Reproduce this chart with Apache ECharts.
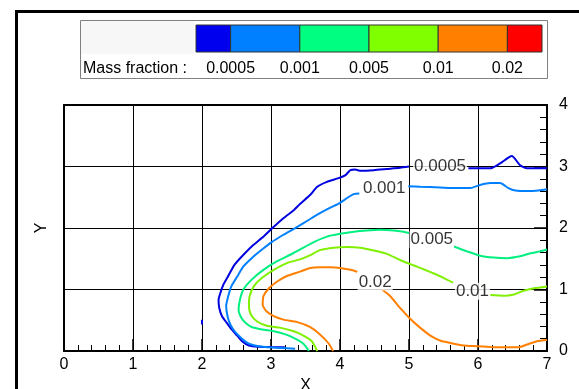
<!DOCTYPE html>
<html>
<head>
<meta charset="utf-8">
<script src="https://cdn.jsdelivr.net/npm/echarts@6/dist/echarts.min.js"></script>
<style>
html,body{margin:0;padding:0;background:#fff;}
#chart{width:579px;height:389px;}
</style>
</head>
<body>
<div id="chart"></div>
<script>
// ---- data ----
const xTicks = [0, 1, 2, 3, 4, 5, 6, 7];
const yTicks = [0, 1, 2, 3, 4];
const legendLevels = ['0.0005', '0.001', '0.005', '0.01', '0.02'];
const legendColors = ['#0000ee', '#0080ff', '#00ff80', '#80ff00', '#ff8000', '#ff0000'];
const lineColors = ['#0000e0', '#0080ff', '#00f080', '#80f000', '#ff8000'];

// contour 0.0005 (segments separated by label gaps)
const c0005_a = [[3.2,0.06],[3.0,0.065],[2.82,0.07],[2.68,0.09],[2.58,0.16],[2.51,0.25],[2.43,0.35],[2.36,0.456],[2.29,0.565],[2.25,0.70],[2.24,0.83],[2.265,0.94],[2.31,1.08],[2.39,1.24],[2.47,1.40],[2.58,1.54],[2.72,1.70],[2.87,1.84],[3.02,2.0],[3.18,2.16],[3.33,2.29],[3.42,2.39],[3.57,2.54],[3.67,2.67],[3.81,2.75],[3.98,2.81],[4.08,2.86],[4.15,2.94],[4.22,2.95],[4.30,2.93],[4.49,2.94],[4.68,2.96],[4.87,2.98],[5.0,3.0]];
const c0005_b = [[5.86,2.97],[6.03,2.97],[6.18,2.97],[6.32,3.05],[6.49,3.17],[6.61,3.02],[6.71,2.97],[7.0,2.97]];
const c0005_c = [[2.0,0.43],[2.0,0.51]];
// contour 0.001
const c001_a = [[3.35,0.035],[3.02,0.055],[2.80,0.08],[2.68,0.12],[2.58,0.20],[2.48,0.31],[2.41,0.43],[2.37,0.565],[2.35,0.73],[2.38,0.89],[2.425,1.05],[2.51,1.21],[2.60,1.375],[2.72,1.51],[2.87,1.65],[3.01,1.77],[3.18,1.89],[3.35,1.998],[3.545,2.13],[3.71,2.24],[3.86,2.33],[4.0,2.41],[4.12,2.50],[4.20,2.55],[4.28,2.56]];
const c001_b = [[4.99,2.68],[5.16,2.67],[5.45,2.66],[5.65,2.65],[5.89,2.65],[6.03,2.70],[6.18,2.73],[6.32,2.73],[6.44,2.65],[6.54,2.61],[6.71,2.60],[6.88,2.61],[7.0,2.63]];
// contour 0.005
const c005_a = [[3.55,0.0],[3.47,0.117],[3.35,0.20],[3.21,0.27],[3.04,0.32],[2.87,0.35],[2.72,0.39],[2.63,0.46],[2.57,0.54],[2.53,0.67],[2.55,0.835],[2.60,1.0],[2.72,1.16],[2.89,1.32],[3.09,1.46],[3.28,1.565],[3.42,1.65],[3.62,1.77],[3.81,1.86],[4.0,1.905],[4.20,1.94],[4.39,1.96],[4.58,1.97],[4.78,1.96],[4.92,1.94],[5.0,1.92]];
const c005_b = [[5.65,1.70],[5.84,1.62],[6.03,1.55],[6.23,1.52],[6.42,1.51],[6.61,1.54],[6.76,1.59],[6.90,1.62],[7.0,1.65]];
// contour 0.01
const c01_a = [[3.67,0.0],[3.59,0.16],[3.47,0.25],[3.33,0.32],[3.13,0.38],[2.94,0.41],[2.80,0.48],[2.71,0.59],[2.68,0.73],[2.69,0.89],[2.75,1.05],[2.87,1.19],[3.04,1.32],[3.23,1.43],[3.42,1.49],[3.57,1.56],[3.71,1.64],[3.91,1.68],[4.10,1.69],[4.29,1.68],[4.49,1.635],[4.68,1.58],[4.87,1.48],[5.07,1.39],[5.21,1.33],[5.36,1.26],[5.50,1.19],[5.64,1.11]];
const c01_b = [[6.18,0.91],[6.37,0.90],[6.52,0.92],[6.66,0.98],[6.81,1.02],[7.0,1.05]];
// contour 0.02
const c02_a = [[3.90,0.0],[3.83,0.13],[3.71,0.27],[3.57,0.39],[3.38,0.47],[3.18,0.51],[3.04,0.566],[2.93,0.65],[2.88,0.75],[2.89,0.89],[2.97,1.02],[3.09,1.13],[3.23,1.22],[3.42,1.29],[3.57,1.35],[3.71,1.36],[3.86,1.36],[4.0,1.35],[4.15,1.32],[4.25,1.29]];
const c02_b = [[4.61,1.0],[4.73,0.89],[4.87,0.70],[5.02,0.52],[5.16,0.38],[5.31,0.25],[5.45,0.17],[5.60,0.13],[5.79,0.089],[5.98,0.078],[6.18,0.067],[6.37,0.062],[6.59,0.062],[6.71,0.105],[6.855,0.16],[7.0,0.18]];

const contourLabels = ['0.0005', '0.001', '0.005', '0.01', '0.02'];
const contourLabelX = [5.45, 4.64, 5.33, 5.92, 4.51];
const contourLabelY = [3.0, 2.64, 1.81, 0.97, 1.12];

// ---- chart ----
const chart = echarts.init(document.getElementById('chart'), null, {renderer: 'canvas'});
const FONT = 'Liberation Sans, Arial, sans-serif';

const contourSets = [
  [c0005_a, c0005_b, c0005_c],
  [c001_a, c001_b],
  [c005_a, c005_b],
  [c01_a, c01_b],
  [c02_a, c02_b]
];
const series = [];
contourSets.forEach((segs, i) => {
  segs.forEach(seg => {
    series.push({
      type: 'line', data: seg, showSymbol: false, symbol: 'none', smooth: 0.2,
      lineStyle: {color: lineColors[i], width: 2}, z: 3, silent: true
    });
  });
});
series.push({
  type: 'scatter', symbolSize: 1, itemStyle: {color: 'rgba(0,0,0,0)'}, z: 5, silent: true,
  data: contourLabels.map((t, i) => ({name: t, value: [contourLabelX[i], contourLabelY[i]]})),
  label: {show: true, position: 'inside', formatter: p => p.name, fontSize: 17, fontFamily: FONT,
          color: '#000', backgroundColor: '#fff', padding: [0, 1, 0, 1]}
});

// legend graphics built from legend arrays
const barX0 = 196, barY = 25, barH = 27, step = 69.2;
const graphics = [];
graphics.push({type: 'polyline', shape: {points: [[16.5, 389], [16.5, 11.5], [579, 11.5]]},
  style: {stroke: '#000', lineWidth: 3, fill: null}, z: 1});
graphics.push({type: 'rect', shape: {x: 80.5, y: 20.5, width: 467, height: 58},
  style: {fill: '#fff', stroke: '#808080', lineWidth: 1}, z: 1});
graphics.push({type: 'rect', shape: {x: 81, y: 21, width: 113, height: 33},
  style: {fill: '#f7f7f7'}, z: 1});
let xcur = barX0;
legendColors.forEach((c, i) => {
  const w = (i === 0 || i === legendColors.length - 1) ? step / 2 : step;
  graphics.push({type: 'rect', shape: {x: xcur, y: barY, width: w, height: barH},
    style: {fill: c, stroke: '#333', lineWidth: 1}, z: 2});
  xcur += w;
});
legendLevels.forEach((t, i) => {
  graphics.push({type: 'text', x: barX0 + step / 2 + i * step, y: 69, z: 2,
    style: {text: t, font: '16px ' + FONT, fill: '#000', align: 'center', verticalAlign: 'middle',
            textAlign: 'center', textVerticalAlign: 'middle'}});
});
graphics.push({type: 'text', x: 83, y: 69, z: 2,
  style: {text: 'Mass fraction :', font: '16px ' + FONT, fill: '#000', align: 'left', verticalAlign: 'middle',
          textAlign: 'left', textVerticalAlign: 'middle'}});

const option = {
  animation: false,
  backgroundColor: '#fff',
  grid: {left: 64, right: 32, top: 105, height: 246, containLabel: false, outerBoundsMode: 'none'},
  xAxis: [{
    type: 'value', min: xTicks[0], max: xTicks[xTicks.length - 1], interval: 1, position: 'bottom',
    name: 'X', nameLocation: 'middle', nameGap: 22,
    nameTextStyle: {fontSize: 16, fontFamily: FONT, color: '#000'},
    axisLine: {show: true, onZero: false, lineStyle: {color: '#000', width: 2}},
    axisTick: {show: true, inside: true, length: 12, lineStyle: {color: '#000', width: 1.5}},
    minorTick: {show: true, splitNumber: 5, length: 6, lineStyle: {color: '#000', width: 1}},
    axisLabel: {fontSize: 16, fontFamily: FONT, color: '#000', margin: 6},
    splitLine: {show: true, lineStyle: {color: '#000', width: 1}}
  }, {
    type: 'value', min: xTicks[0], max: xTicks[xTicks.length - 1], interval: 1, position: 'top',
    axisLine: {show: true, onZero: false, lineStyle: {color: '#000', width: 2}},
    axisTick: {show: false}, axisLabel: {show: false}, splitLine: {show: false}
  }],
  yAxis: [{
    type: 'value', min: yTicks[0], max: yTicks[yTicks.length - 1], interval: 1, position: 'right',
    axisLine: {show: true, onZero: false, lineStyle: {color: '#000', width: 2}},
    axisTick: {show: true, inside: true, length: 13, lineStyle: {color: '#000', width: 1.5}},
    minorTick: {show: true, splitNumber: 5, length: 7, lineStyle: {color: '#000', width: 1}},
    axisLabel: {fontSize: 16, fontFamily: FONT, color: '#000', margin: 12},
    splitLine: {show: true, lineStyle: {color: '#000', width: 1}}
  }, {
    type: 'value', min: yTicks[0], max: yTicks[yTicks.length - 1], interval: 1, position: 'left',
    name: 'Y', nameLocation: 'middle', nameGap: 14, nameRotate: 90,
    nameTextStyle: {fontSize: 16, fontFamily: FONT, color: '#000'},
    axisLine: {show: true, onZero: false, lineStyle: {color: '#000', width: 2}},
    axisTick: {show: false}, axisLabel: {show: false}, splitLine: {show: false}
  }],
  graphic: {elements: graphics},
  series: series
};
chart.setOption(option);
</script>
</body>
</html>
